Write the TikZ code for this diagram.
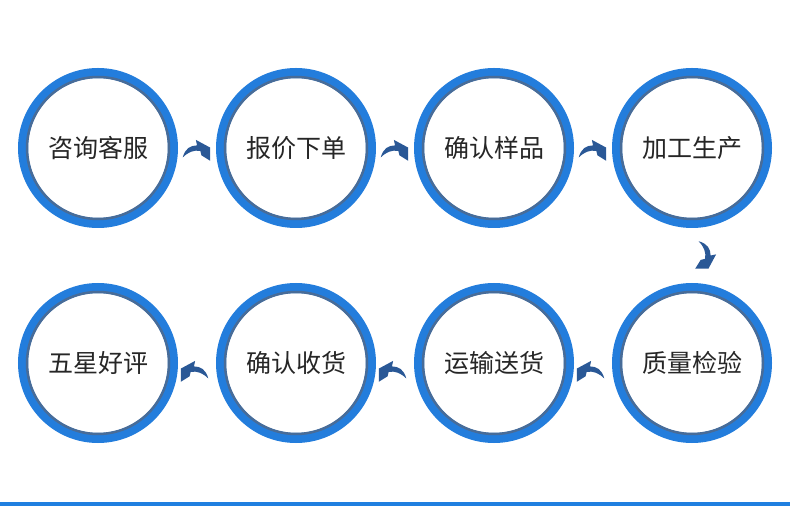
\documentclass[tikz,border=0pt]{standalone}
\usepackage{fontspec}
\newfontfamily\cjk{Noto Sans CJK SC}
\usetikzlibrary{calc}

\begin{document}
\begin{tikzpicture}[x=1pt,y=1pt,
 stepring/.style={circle,draw=ringblue,line width=10pt,minimum size=150pt,
  inner sep=0pt,fill=white,text=black!85,font=\cjk\fontsize{25}{28}\selectfont},
 turn/.pic={\fill[arrowblue,scale=1.1] (-13,-5) .. controls (-11,3) and (-6,6) .. (0,6)
  -- (-1,11) -- (12,4) -- (12,-8) -- (4,-3) -- (3,1)
  .. controls (-3,2) and (-8,0) .. cycle;}]
\definecolor{ringblue}{RGB}{35,125,220}
\definecolor{ringedge}{RGB}{72,108,152}
\definecolor{arrowblue}{RGB}{42,88,150}
\definecolor{barblue}{RGB}{31,127,224}
\useasboundingbox (0,0) rectangle (790,506);
% top row, left to right
\node[stepring] (s1) at (98,358) {咨询客服};
\node[stepring] (s2) at (296,358) {报价下单};
\node[stepring] (s3) at (494,358) {确认样品};
\node[stepring] (s4) at (692,358) {加工生产};
% bottom row, right to left
\node[stepring] (s5) at (692,143) {质量检验};
\node[stepring] (s6) at (494,143) {运输送货};
\node[stepring] (s7) at (296,143) {确认收货};
\node[stepring] (s8) at (98,143) {五星好评};
% darker inner edge of each ring
\foreach \n in {s1,s2,s3,s4,s5,s6,s7,s8}
 \draw[ringedge,line width=2.5pt] (\n.center) circle (71);
% curved arrows between the steps
\foreach \a/\b in {s1/s2,s2/s3,s3/s4}
 \path ($(\a.east)!0.5!(\b.west)+(0,-4)$) pic{turn};
\path ($(s4.south)!0.5!(s5.north)+(12,0)$) pic[rotate=-90]{turn};
\foreach \a/\b in {s5/s6,s6/s7,s7/s8}
 \path ($(\a.west)!0.5!(\b.east)+(-3,-10)$) pic[xscale=-1]{turn};
\fill[barblue] (0,0) rectangle (790,4.3);
\end{tikzpicture}
\end{document}
